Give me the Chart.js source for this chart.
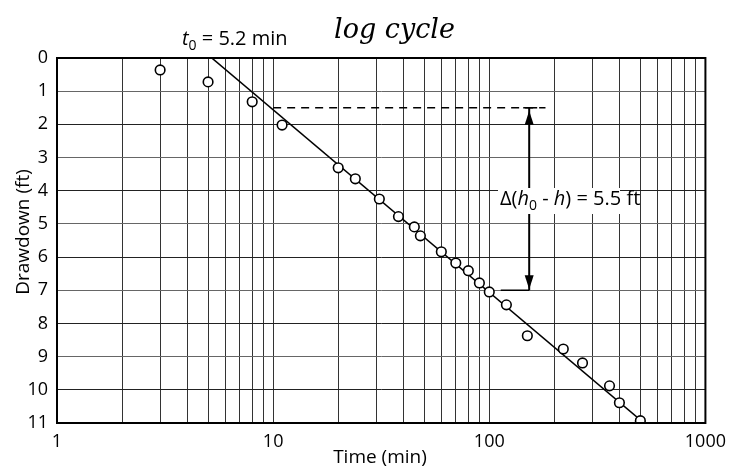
<!DOCTYPE html>
<html>
<head>
<meta charset="utf-8">
<script src="https://cdn.jsdelivr.net/npm/chart.js@4.4.1/dist/chart.umd.min.js"></script>
<style>
html,body{margin:0;padding:0;background:#fff;}
#wrap{width:734px;height:469px;position:relative;}
</style>
</head>
<body>
<div id="wrap"><canvas id="c" width="734" height="469"></canvas></div>
<script>
// Observed data (time in minutes, drawdown in ft)
const timeMin = [3, 5, 8, 11, 20, 24, 31, 38, 45, 48, 60, 70, 80, 90, 100, 120, 150, 220, 270, 360, 400, 500];
const drawdownFt = [0.36, 0.72, 1.32, 2.02, 3.31, 3.64, 4.25, 4.78, 5.09, 5.36, 5.84, 6.18, 6.41, 6.78, 7.05, 7.44, 8.37, 8.77, 9.19, 9.88, 10.39, 10.93];
// Straight-line fit (Cooper-Jacob): t0 = 5.2 min, 5.5 ft per log cycle
const fitTime = [5.2, 520];
const fitDrawdown = [0, 11];
// Construction lines for the log-cycle difference
const dashTime = [10, 182];
const dashDrawdown = [1.5, 1.5];
const arrowTime = [153, 153];
const arrowDrawdown = [1.5, 7.0];
const lowTime = [113, 153];
const lowDrawdown = [7.0, 7.0];
// Axis ticks
const decadeLabels = [1, 10, 100, 1000];
const yTicks = [0,1,2,3,4,5,6,7,8,9,10,11];

const gridTimes = [];
for (let d = 0; d < 3; d++) {
  for (let m = 1; m <= 9; m++) gridTimes.push(m * Math.pow(10, d));
}
gridTimes.push(1000);

const pts = (xs, ys) => xs.map((x, i) => ({x: x, y: ys[i]}));
const FONT = '"Open Sans", Lato, sans-serif';

const drawPlugin = {
  id: 'extras',
  beforeDraw(chart) {
    const ctx = chart.ctx;
    ctx.save();
    ctx.fillStyle = '#fff';
    ctx.fillRect(0, 0, chart.width, chart.height);
    ctx.restore();
  },
  afterDatasetsDraw(chart) {
    const ctx = chart.ctx;
    const xs = chart.scales.x, ys = chart.scales.y;
    const a = chart.chartArea;
    ctx.save();
    // frame
    ctx.strokeStyle = '#000';
    ctx.lineWidth = 2;
    ctx.strokeRect(a.left, a.top, a.right - a.left, a.bottom - a.top);

    // arrowheads
    const ax = xs.getPixelForValue(arrowTime[0]);
    const yTop = ys.getPixelForValue(arrowDrawdown[0]);
    const yBot = ys.getPixelForValue(arrowDrawdown[1]);
    ctx.fillStyle = '#000';
    ctx.beginPath();
    ctx.moveTo(ax, yTop + 3);
    ctx.lineTo(ax - 4.5, yTop + 17);
    ctx.lineTo(ax + 4.5, yTop + 17);
    ctx.closePath();
    ctx.fill();
    ctx.beginPath();
    ctx.moveTo(ax, yBot - 1);
    ctx.lineTo(ax - 4.5, yBot - 15);
    ctx.lineTo(ax + 4.5, yBot - 15);
    ctx.closePath();
    ctx.fill();
    // small cap at top of arrow
    ctx.lineWidth = 1.5;
    ctx.beginPath();
    ctx.moveTo(ax - 6, yTop);
    ctx.lineTo(ax + 8, yTop);
    ctx.stroke();

    // Delta label with white background
    ctx.textBaseline = 'alphabetic';
    const bx = 500, by = 205;
    ctx.fillStyle = '#fff';
    ctx.fillRect(bx - 2, by - 17, 122, 26);
    ctx.fillStyle = '#000';
    let x = bx;
    const put = (s, f, dy) => {
      ctx.font = f;
      ctx.fillText(s, x, by + (dy || 0));
      x += ctx.measureText(s).width;
    };
    put('\u0394(', '20px ' + FONT);
    put('h', 'italic 20px ' + FONT);
    put('0', '14px ' + FONT, 5);
    put(' - ', '20px ' + FONT);
    put('h', 'italic 20px ' + FONT);
    put(') = 5.5 ft', '20px ' + FONT);

    // t0 label
    x = 182;
    const ty = 45;
    const put2 = (s, f, dy) => {
      ctx.font = f;
      ctx.fillText(s, x, ty + (dy || 0));
      x += ctx.measureText(s).width;
    };
    put2('t', 'italic 20px ' + FONT);
    put2('0', '14px ' + FONT, 5);
    put2(' = 5.2 min', '20px ' + FONT);

    // handwritten note
    ctx.font = 'italic 27px "DejaVu Serif", serif';
    ctx.fillText('log cycle', 334, 38);

    // axis titles
    ctx.font = '19px ' + FONT;
    ctx.textAlign = 'center';
    ctx.fillText('Time (min)', 380, 463);
    ctx.save();
    ctx.translate(29, 232);
    ctx.rotate(-Math.PI / 2);
    ctx.fillText('Drawdown (ft)', 0, 0);
    ctx.restore();
    ctx.restore();
  }
};

new Chart(document.getElementById('c'), {
  type: 'scatter',
  data: {
    datasets: [
      {
        type: 'line',
        data: pts(fitTime, fitDrawdown),
        borderColor: '#000', borderWidth: 1.6, pointRadius: 0, fill: false, order: 3
      },
      {
        type: 'line',
        data: pts(dashTime, dashDrawdown),
        borderColor: '#000', borderWidth: 1.3, borderDash: [8, 6], pointRadius: 0, fill: false, order: 3
      },
      {
        type: 'line',
        data: pts(arrowTime, arrowDrawdown),
        borderColor: '#000', borderWidth: 2, pointRadius: 0, fill: false, order: 3
      },
      {
        type: 'line',
        data: pts(lowTime, lowDrawdown),
        borderColor: '#000', borderWidth: 1.5, pointRadius: 0, fill: false, order: 3
      },
      {
        data: pts(timeMin, drawdownFt),
        backgroundColor: '#fff', borderColor: '#000', borderWidth: 1.6,
        pointRadius: 4.8, pointHoverRadius: 4.8, order: 1
      }
    ]
  },
  options: {
    responsive: false,
    animation: false,
    events: [],
    layout: { padding: { top: 58, right: 26, left: 0, bottom: 0 } },
    plugins: { legend: { display: false }, tooltip: { enabled: false } },
    scales: {
      x: {
        type: 'logarithmic',
        min: 1, max: 1000,
        afterBuildTicks(scale) { scale.ticks = gridTimes.map(v => ({ value: v })); },
        afterFit(scale) { scale.height = 46; },
        grid: { color: '#333', lineWidth: 1, drawTicks: false },
        border: { display: true, color: '#000', width: 2 },
        ticks: {
          autoSkip: false, maxRotation: 0, padding: 8,
          color: '#000', font: { family: FONT, size: 18 },
          callback: (v) => decadeLabels.includes(v) ? String(v) : ''
        }
      },
      y: {
        type: 'linear',
        reverse: true,
        min: 0, max: 11,
        afterBuildTicks(scale) { scale.ticks = yTicks.map(v => ({ value: v })); },
        afterFit(scale) { scale.width = 57; },
        grid: {
          drawTicks: false,
          color: (c) => (c.tick && c.tick.value % 2 === 0) ? '#222' : '#666',
          lineWidth: 1
        },
        border: { display: true, color: '#000', width: 2 },
        ticks: {
          autoSkip: false, padding: 9,
          color: '#000', font: { family: FONT, size: 18 }
        }
      }
    }
  },
  plugins: [drawPlugin]
});
</script>
</body>
</html>
